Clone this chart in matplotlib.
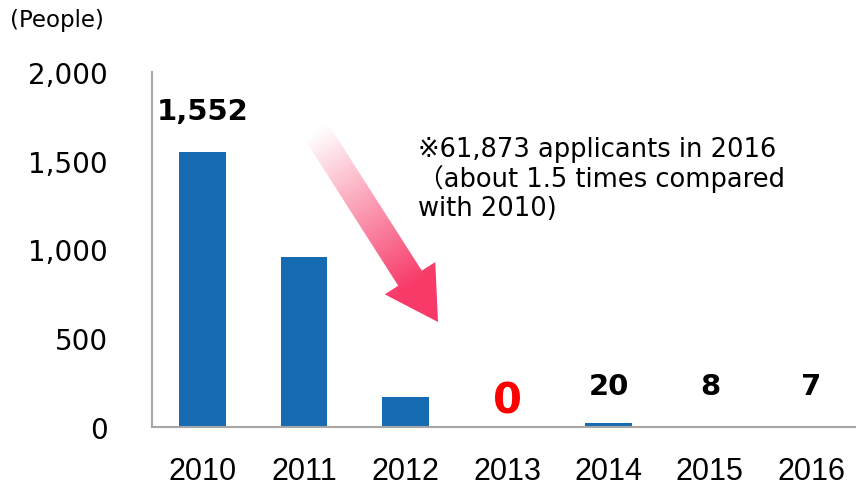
import numpy as np
import matplotlib
matplotlib.use("Agg")
import matplotlib.pyplot as plt
from matplotlib.patches import Polygon

years = ["2010", "2011", "2012", "2013", "2014", "2015", "2016"]
people = [1552, 955, 170, 0, 20, 8, 7]
shown_labels = ["1,552", "", "", "0", "20", "8", "7"]
note_lines = ["※61,873 applicants in 2016", "（about 1.5 times compared", "with 2010)"]

bar_color = "#166BB1"
W, H = 856, 489

fig = plt.figure(figsize=(W / 100, H / 100), dpi=100)
ax = fig.add_axes([152 / W, 61 / H, 1 - 152 / W, 355 / H])

x = np.arange(len(years))
ax.bar(x, people, width=0.46, color=bar_color)
ax.set_xlim(-0.5, 6.44)
ax.set_ylim(0, 2000)
ax.set_yticks([0, 500, 1000, 1500, 2000])
ax.set_yticklabels(["0", "500", "1,000", "1,500", "2,000"], fontsize=20)
ax.set_xticks(x)
ax.set_xticklabels(years, fontsize=22, family="Liberation Sans")
ax.tick_params(axis="y", length=0, pad=32)
ax.tick_params(axis="x", length=0, pad=21)
for s in ["top", "right"]:
    ax.spines[s].set_visible(False)
for s in ["left", "bottom"]:
    ax.spines[s].set_color("#A6A6A6")
    ax.spines[s].set_linewidth(1.5)

# value labels (only some years are labelled)
for i, lab in enumerate(shown_labels):
    if lab == "":
        continue
    if people[i] == 0:
        ax.text(i, 150, lab, ha="center", va="center", fontsize=30, fontweight="bold", color="#FF0000")
    elif people[i] > 1000:
        ax.text(i, people[i] + 230, lab, ha="center", va="center", fontsize=21, fontweight="bold")
    else:
        ax.text(i, 232, lab, ha="center", va="center", fontsize=21, fontweight="bold")

fig.text(10 / W, 1 - 20 / H, "(People)", fontsize=16.5, va="center", ha="left")

for k, line in enumerate(note_lines):
    fig.text(418 / W, 1 - (150 + 29.5 * k) / H, line, fontsize=18.5, va="center", ha="left",
             family=["DejaVu Sans", "Noto Sans CJK JP"])

# gradient arrow in pixel coordinates
ov = fig.add_axes([0, 0, 1, 1], facecolor="none")
ov.set_xlim(0, W)
ov.set_ylim(H, 0)
ov.axis("off")
p0 = np.array([316.0, 132.0])
p1 = np.array([438.0, 323.0])
d = (p1 - p0) / np.linalg.norm(p1 - p0)
n = np.array([-d[1], d[0]])
shaft_w, head_w, head_l = 28.0, 60.0, 52.0
hb = p1 - d * head_l
pts = [p0 + n * shaft_w / 2, hb + n * shaft_w / 2, hb + n * head_w / 2, p1,
       hb - n * head_w / 2, hb - n * shaft_w / 2, p0 - n * shaft_w / 2]
poly = Polygon(pts, closed=True, facecolor="none", edgecolor="none")
ov.add_patch(poly)

xs = np.linspace(0, W, 400)
ys = np.linspace(0, H, 300)
XX, YY = np.meshgrid(xs, ys)
t = ((XX - p0[0]) * d[0] + (YY - p0[1]) * d[1]) / np.linalg.norm(p1 - p0)
t = np.clip(t / 0.8, 0, 1)
c0 = np.array([1.0, 1.0, 1.0])
c1 = np.array([0.97, 0.23, 0.41])
img = c0[None, None, :] * (1 - t[..., None]) + c1[None, None, :] * t[..., None]
im = ov.imshow(img, extent=[0, W, H, 0], origin="upper", zorder=1, aspect="auto")
im.set_clip_path(poly)

fig.savefig("out.png", dpi=100)
